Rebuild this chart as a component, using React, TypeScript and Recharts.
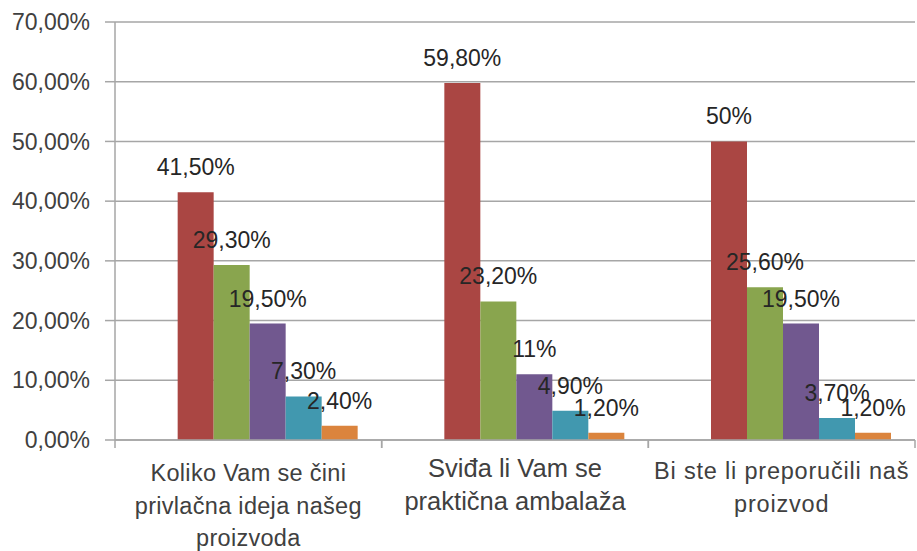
import { BarChart, Bar, XAxis, YAxis, CartesianGrid, LabelList } from "recharts";

const categories = [
  "Koliko Vam se čini privlačna ideja našeg proizvoda",
  "Sviđa li Vam se praktična ambalaža",
  "Bi ste li preporučili naš proizvod",
];
const categoryLines = [
  ["Koliko Vam se čini", "privlačna ideja našeg", "proizvoda"],
  ["Sviđa li Vam se", "praktična ambalaža"],
  ["Bi ste li preporučili naš", "proizvod"],
];
// the first (blue) series is empty in the source workbook but still takes a slot
const seriesEmpty = [null, null, null];
const series1 = [41.5, 59.8, 50];
const series2 = [29.3, 23.2, 25.6];
const series3 = [19.5, 11, 19.5];
const series4 = [7.3, 4.9, 3.7];
const series5 = [2.4, 1.2, 1.2];
const yTicks = [0, 10, 20, 30, 40, 50, 60, 70];

const colors = ["#4572A7", "#AA4643", "#89A54E", "#71588F", "#4198AF", "#DB843D"];
const tickStyles = [
  { fontSize: 23.5, first: 41, step: 32.5, spacing: 0.3 },
  { fontSize: 25.5, first: 37, step: 33, spacing: 0 },
  { fontSize: 23.5, first: 39, step: 33, spacing: 0.8 },
];

const data = categories.map((name, i) => ({
  name,
  s0: seriesEmpty[i],
  s1: series1[i],
  s2: series2[i],
  s3: series3[i],
  s4: series4[i],
  s5: series5[i],
}));

const W = 917;
const H = 551;
const Y_AXIS_W = 115;
const RIGHT = 2;
const FONT = "'Liberation Sans', Arial, sans-serif";
const GRID = "#a6a6a6";

const fmtAxis = (v: number) => v.toFixed(2).replace(".", ",") + "%";
const fmtLabel = (v: number) =>
  Number.isInteger(v) ? `${v}%` : v.toFixed(2).replace(".", ",") + "%";

function CategoryTick({ x, y, index }: any) {
  const st = tickStyles[index] ?? tickStyles[0];
  const lines = categoryLines[index] ?? [];
  // Excel puts the category tick marks between the groups
  const half = (W - Y_AXIS_W - RIGHT) / categories.length / 2;
  return (
    <g>
      <line x1={x - half} x2={x - half} y1={y} y2={y + 8} stroke={GRID} strokeWidth={1.5} />
      <line x1={x + half} x2={x + half} y1={y} y2={y + 8} stroke={GRID} strokeWidth={1.5} />
      {lines.map((line, k) => (
        <text
          key={k}
          x={x}
          y={y + st.first + k * st.step}
          textAnchor="middle"
          fontSize={st.fontSize}
          fontFamily={FONT}
          fill="#404040"
          letterSpacing={st.spacing}
        >
          {line}
        </text>
      ))}
    </g>
  );
}

const labelProps = {
  position: "top" as const,
  offset: 17,
  formatter: (v: any) => (v == null ? "" : fmtLabel(Number(v))),
  fill: "#262626",
  fontSize: 23,
  fontFamily: FONT,
};

export default function App() {
  return (
    <div style={{ width: W, height: H, background: "#fff" }}>
      <style>{`body{margin:0}`}</style>
      <BarChart
        width={W}
        height={H}
        data={data}
        margin={{ top: 22, right: RIGHT, bottom: 0, left: 0 }}
        barCategoryGap="10%"
        barGap={0}
      >
        <CartesianGrid vertical={false} stroke={GRID} strokeWidth={1.5} />
        <XAxis
          dataKey="name"
          interval={0}
          height={111}
          tickSize={0}
          tickMargin={0}
          tickLine={false}
          axisLine={{ stroke: GRID, strokeWidth: 1.5 }}
          tick={<CategoryTick />}
        />
        <YAxis
          width={Y_AXIS_W}
          domain={[0, 70]}
          ticks={yTicks}
          tickFormatter={fmtAxis}
          tickSize={10}
          tickMargin={15}
          axisLine={{ stroke: GRID, strokeWidth: 1.5 }}
          tickLine={{ stroke: GRID, strokeWidth: 1.5 }}
          tick={{ fill: "#404040", fontSize: 23, fontFamily: FONT }}
        />
        <Bar dataKey="s0" fill={colors[0]} isAnimationActive={false} />
        <Bar dataKey="s1" fill={colors[1]} isAnimationActive={false}>
          <LabelList dataKey="s1" {...labelProps} />
        </Bar>
        <Bar dataKey="s2" fill={colors[2]} isAnimationActive={false}>
          <LabelList dataKey="s2" {...labelProps} />
        </Bar>
        <Bar dataKey="s3" fill={colors[3]} isAnimationActive={false}>
          <LabelList dataKey="s3" {...labelProps} />
        </Bar>
        <Bar dataKey="s4" fill={colors[4]} isAnimationActive={false}>
          <LabelList dataKey="s4" {...labelProps} />
        </Bar>
        <Bar dataKey="s5" fill={colors[5]} isAnimationActive={false}>
          <LabelList dataKey="s5" {...labelProps} />
        </Bar>
      </BarChart>
    </div>
  );
}
